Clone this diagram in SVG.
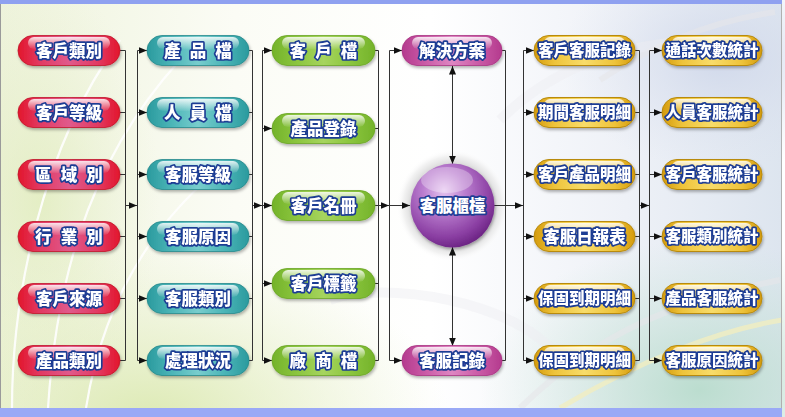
<svg xmlns="http://www.w3.org/2000/svg" width="785" height="417" viewBox="0 0 785 417">
<defs>
  <linearGradient id="bgBase" x1="0" y1="0" x2="1" y2="0">
    <stop offset="0" stop-color="#eef3dc"/>
    <stop offset="0.3" stop-color="#fbfcf5"/>
    <stop offset="0.55" stop-color="#ffffff"/>
    <stop offset="0.8" stop-color="#eef1f7"/>
    <stop offset="1" stop-color="#dde5ef"/>
  </linearGradient>
  <radialGradient id="bgBL" cx="0.5" cy="0.5" r="0.5">
    <stop offset="0" stop-color="#dbe9b0" stop-opacity="0.95"/>
    <stop offset="1" stop-color="#e6efc8" stop-opacity="0"/>
  </radialGradient>
  <radialGradient id="bgBR" cx="0.5" cy="0.5" r="0.5">
    <stop offset="0" stop-color="#b9dccd" stop-opacity="0.95"/>
    <stop offset="1" stop-color="#c8e4d8" stop-opacity="0"/>
  </radialGradient>
  <radialGradient id="bgTR" cx="0.5" cy="0.5" r="0.5">
    <stop offset="0" stop-color="#cfd7ea" stop-opacity="0.9"/>
    <stop offset="1" stop-color="#dde3f0" stop-opacity="0"/>
  </radialGradient>

  <linearGradient id="gRed" x1="0" y1="0" x2="1" y2="0">
    <stop offset="0" stop-color="#e2162c"/>
    <stop offset="0.22" stop-color="#e23a63"/>
    <stop offset="0.5" stop-color="#e05a8c"/>
    <stop offset="0.78" stop-color="#e23a63"/>
    <stop offset="1" stop-color="#e2162c"/>
  </linearGradient>
  <linearGradient id="gTeal" x1="0" y1="0" x2="1" y2="0">
    <stop offset="0" stop-color="#2a9a9e"/>
    <stop offset="0.25" stop-color="#4db6b8"/>
    <stop offset="0.5" stop-color="#78cdcd"/>
    <stop offset="0.75" stop-color="#4db6b8"/>
    <stop offset="1" stop-color="#2a9a9e"/>
  </linearGradient>
  <linearGradient id="gGreen" x1="0" y1="0" x2="1" y2="0">
    <stop offset="0" stop-color="#74b32a"/>
    <stop offset="0.25" stop-color="#8cc63f"/>
    <stop offset="0.5" stop-color="#a6d45e"/>
    <stop offset="0.75" stop-color="#8cc63f"/>
    <stop offset="1" stop-color="#74b32a"/>
  </linearGradient>
  <linearGradient id="gPink" x1="0" y1="0" x2="1" y2="0">
    <stop offset="0" stop-color="#b43a8e"/>
    <stop offset="0.25" stop-color="#cc5ea8"/>
    <stop offset="0.5" stop-color="#de86c2"/>
    <stop offset="0.75" stop-color="#cc5ea8"/>
    <stop offset="1" stop-color="#b43a8e"/>
  </linearGradient>
  <linearGradient id="gGold" x1="0" y1="0" x2="1" y2="0">
    <stop offset="0" stop-color="#d49a0c"/>
    <stop offset="0.2" stop-color="#eec33a"/>
    <stop offset="0.5" stop-color="#f8dc6a"/>
    <stop offset="0.8" stop-color="#eec33a"/>
    <stop offset="1" stop-color="#d49a0c"/>
  </linearGradient>
  <linearGradient id="gHi" x1="0" y1="0" x2="0" y2="1">
    <stop offset="0" stop-color="#fff" stop-opacity="0.85"/>
    <stop offset="1" stop-color="#fff" stop-opacity="0.05"/>
  </linearGradient>
  <radialGradient id="gBall" cx="0.4" cy="0.32" r="0.7">
    <stop offset="0" stop-color="#e6c6f0"/>
    <stop offset="0.35" stop-color="#bb7fd0"/>
    <stop offset="0.8" stop-color="#8a3ea2"/>
    <stop offset="1" stop-color="#6c2484"/>
  </radialGradient>
  <radialGradient id="gHalo" cx="0.5" cy="0.5" r="0.5">
    <stop offset="0.75" stop-color="#d8d8d8" stop-opacity="0.9"/>
    <stop offset="0.88" stop-color="#ececec" stop-opacity="0.7"/>
    <stop offset="1" stop-color="#ffffff" stop-opacity="0"/>
  </radialGradient>
  <filter id="sh" x="-10%" y="-20%" width="120%" height="160%">
    <feDropShadow dx="1" dy="2" stdDeviation="1.5" flood-color="#000" flood-opacity="0.3"/>
  </filter>
  <marker id="ah" markerWidth="9" markerHeight="8" refX="8.5" refY="4" orient="auto" markerUnits="userSpaceOnUse">
    <path d="M0,0.5 L8.5,4 L0,7.5 z" fill="#111"/>
  </marker>
</defs>
<style>
  .lbl { font-family: "Noto Sans CJK TC", "Noto Sans CJK SC", sans-serif; font-weight: 900; font-size: 16.5px; fill: #ffffff; stroke: #1e3c94; stroke-width: 3.4px; stroke-linejoin: round; paint-order: stroke; text-anchor: middle; }
  .sm { font-size: 15.5px; }
  .sp { letter-spacing: 2.7px; }
  .hi { fill: url(#gHi); }
  .conn path, .conn line { stroke: #333333; stroke-width: 1; fill: none; }
  .arr { marker-end: url(#ah); }
</style>

<!-- background -->
<rect x="0" y="0" width="785" height="417" fill="#ffffff"/>
<rect x="1" y="4" width="781" height="404" fill="url(#bgBase)"/>
<ellipse cx="150" cy="420" rx="300" ry="170" fill="url(#bgBL)"/>
<ellipse cx="40" cy="200" rx="120" ry="220" fill="url(#bgBL)" opacity="0.6"/>
<ellipse cx="700" cy="390" rx="220" ry="150" fill="url(#bgBR)"/>
<ellipse cx="720" cy="60" rx="160" ry="110" fill="url(#bgTR)"/>
<g fill="none" stroke="#ffffff" stroke-width="2.2" opacity="0.9">
  <path d="M12,408 C12,300 40,150 120,40"/>
  <path d="M48,408 C55,300 80,170 180,60"/>
  <path d="M86,408 C100,320 140,230 230,160"/>
</g>
<g fill="none" stroke="#e6e6ea" stroke-width="6" opacity="0.6">
  <path d="M520,408 C600,330 680,300 780,280"/>
  <path d="M600,80 C660,40 720,20 775,12"/>
</g>
<g fill="none" stroke="#eeeef2" stroke-width="10" opacity="0.45">
  <path d="M330,300 C380,280 520,300 560,360"/>
  <path d="M500,120 C560,60 640,40 720,40"/>
</g>
<path d="M560,408 C640,360 720,330 782,320" fill="none" stroke="#f1eec0" stroke-width="5" opacity="0.8"/>
<rect x="0" y="0" width="782" height="4" fill="#8fa1f0"/>
<rect x="0" y="408" width="782" height="9" fill="#9aa9f6"/>
<line x1="0.5" y1="4" x2="0.5" y2="408" stroke="#9a9a9a" stroke-width="1"/>
<line x1="781.5" y1="4" x2="781.5" y2="408" stroke="#b0b0b0" stroke-width="1"/>
<circle cx="452.5" cy="205.5" r="56" fill="url(#gHalo)"/>

<!-- connectors -->
<g id="connectors" class="conn">
  <!-- red -> teal -->
  <path d="M120,50.5 H125.5 M120,112.5 H125.5 M120,174.5 H125.5 M120,236.5 H125.5 M120,298.5 H125.5 M120,360.5 H125.5 M125.5,50.5 V360.5"/>
  <line class="arr" x1="125.5" y1="205.5" x2="137" y2="205.5"/>
  <path d="M137.5,50.5 V360.5"/>
  <line class="arr" x1="137.5" y1="50.5" x2="147" y2="50.5"/>
  <line class="arr" x1="137.5" y1="112.5" x2="147" y2="112.5"/>
  <line class="arr" x1="137.5" y1="174.5" x2="147" y2="174.5"/>
  <line class="arr" x1="137.5" y1="236.5" x2="147" y2="236.5"/>
  <line class="arr" x1="137.5" y1="298.5" x2="147" y2="298.5"/>
  <line class="arr" x1="137.5" y1="360.5" x2="147" y2="360.5"/>
  <!-- teal -> green -->
  <path d="M249,50.5 H252.5 M249,112.5 H252.5 M249,174.5 H252.5 M249,236.5 H252.5 M249,298.5 H252.5 M249,360.5 H252.5 M252.5,50.5 V360.5"/>
  <line class="arr" x1="252.5" y1="205.5" x2="262" y2="205.5"/>
  <path d="M262.5,50.5 V360.5"/>
  <line class="arr" x1="262.5" y1="50.5" x2="272" y2="50.5"/>
  <line class="arr" x1="262.5" y1="128.5" x2="272" y2="128.5"/>
  <line class="arr" x1="262.5" y1="205.5" x2="272" y2="205.5"/>
  <line class="arr" x1="262.5" y1="283.5" x2="272" y2="283.5"/>
  <line class="arr" x1="262.5" y1="360.5" x2="272" y2="360.5"/>
  <!-- green -> pink / ball -->
  <path d="M375,50.5 H378.5 M375,128.5 H378.5 M375,205.5 H378.5 M375,283.5 H378.5 M375,360.5 H378.5 M378.5,50.5 V360.5"/>
  <line class="arr" x1="378.5" y1="205.5" x2="389" y2="205.5"/>
  <path d="M389.5,50.5 V360.5"/>
  <line class="arr" x1="389.5" y1="50.5" x2="402" y2="50.5"/>
  <line class="arr" x1="389.5" y1="205.5" x2="410" y2="205.5"/>
  <line class="arr" x1="389.5" y1="360.5" x2="402" y2="360.5"/>
  <!-- ball <-> pink -->
  <line class="arr" x1="452.5" y1="110" x2="452.5" y2="66"/>
  <line class="arr" x1="452.5" y1="110" x2="452.5" y2="164"/>
  <line class="arr" x1="452.5" y1="300" x2="452.5" y2="247"/>
  <line class="arr" x1="452.5" y1="300" x2="452.5" y2="346"/>
  <!-- pink / ball -> yellow -->
  <path d="M502,50.5 H505.5 M502,360.5 H505.5 M505.5,50.5 V360.5"/>
  <line class="arr" x1="494" y1="205.5" x2="523" y2="205.5"/>
  <path d="M523.5,50.5 V360.5"/>
  <line class="arr" x1="523.5" y1="50.5" x2="534" y2="50.5"/>
  <line class="arr" x1="523.5" y1="112.5" x2="534" y2="112.5"/>
  <line class="arr" x1="523.5" y1="174.5" x2="534" y2="174.5"/>
  <line class="arr" x1="523.5" y1="236.5" x2="534" y2="236.5"/>
  <line class="arr" x1="523.5" y1="298.5" x2="534" y2="298.5"/>
  <line class="arr" x1="523.5" y1="360.5" x2="534" y2="360.5"/>
  <!-- yellow -> yellow -->
  <path d="M635,50.5 H639.5 M635,112.5 H639.5 M635,174.5 H639.5 M635,236.5 H639.5 M635,298.5 H639.5 M635,360.5 H639.5 M639.5,50.5 V360.5"/>
  <line class="arr" x1="639.5" y1="205.5" x2="649" y2="205.5"/>
  <path d="M649.5,50.5 V360.5"/>
  <line class="arr" x1="649.5" y1="50.5" x2="662" y2="50.5"/>
  <line class="arr" x1="649.5" y1="112.5" x2="662" y2="112.5"/>
  <line class="arr" x1="649.5" y1="174.5" x2="662" y2="174.5"/>
  <line class="arr" x1="649.5" y1="236.5" x2="662" y2="236.5"/>
  <line class="arr" x1="649.5" y1="298.5" x2="662" y2="298.5"/>
  <line class="arr" x1="649.5" y1="360.5" x2="662" y2="360.5"/>
</g>

<!-- red column -->
<g id="n-kehuleibie" filter="url(#sh)"><rect x="18" y="35.5" width="102" height="30" rx="15" fill="url(#gRed)" stroke="#c0142a" stroke-width="0.8"/><rect x="28" y="37" width="82" height="12" rx="6" class="hi"/><text class="lbl" x="69" y="56.5">客戶類別</text></g>
<g id="n-kehudengji" filter="url(#sh)"><rect x="18" y="97.5" width="102" height="30" rx="15" fill="url(#gRed)" stroke="#c0142a" stroke-width="0.8"/><rect x="28" y="99" width="82" height="12" rx="6" class="hi"/><text class="lbl" x="69" y="118.5">客戶等級</text></g>
<g id="n-quyubie" filter="url(#sh)"><rect x="18" y="159.5" width="102" height="30" rx="15" fill="url(#gRed)" stroke="#c0142a" stroke-width="0.8"/><rect x="28" y="161" width="82" height="12" rx="6" class="hi"/><text class="lbl sp" x="70.3" y="180.5">區 域 別</text></g>
<g id="n-hangyebie" filter="url(#sh)"><rect x="18" y="221.5" width="102" height="30" rx="15" fill="url(#gRed)" stroke="#c0142a" stroke-width="0.8"/><rect x="28" y="223" width="82" height="12" rx="6" class="hi"/><text class="lbl sp" x="70.3" y="242.5">行 業 別</text></g>
<g id="n-kehulaiyuan" filter="url(#sh)"><rect x="18" y="283.5" width="102" height="30" rx="15" fill="url(#gRed)" stroke="#c0142a" stroke-width="0.8"/><rect x="28" y="285" width="82" height="12" rx="6" class="hi"/><text class="lbl" x="69" y="304.5">客戶來源</text></g>
<g id="n-chanpinleibie" filter="url(#sh)"><rect x="18" y="345.5" width="102" height="30" rx="15" fill="url(#gRed)" stroke="#c0142a" stroke-width="0.8"/><rect x="28" y="347" width="82" height="12" rx="6" class="hi"/><text class="lbl" x="69" y="366.5">產品類別</text></g>

<!-- teal column -->
<g id="n-chanpindang" filter="url(#sh)"><rect x="147" y="35.5" width="102" height="30" rx="15" fill="url(#gTeal)" stroke="#25898c" stroke-width="0.8"/><rect x="157" y="37" width="82" height="12" rx="6" class="hi"/><text class="lbl sp" x="199.3" y="56.5">產 品 檔</text></g>
<g id="n-renyuandang" filter="url(#sh)"><rect x="147" y="97.5" width="102" height="30" rx="15" fill="url(#gTeal)" stroke="#25898c" stroke-width="0.8"/><rect x="157" y="99" width="82" height="12" rx="6" class="hi"/><text class="lbl sp" x="199.3" y="118.5">人 員 檔</text></g>
<g id="n-kefudengji" filter="url(#sh)"><rect x="147" y="159.5" width="102" height="30" rx="15" fill="url(#gTeal)" stroke="#25898c" stroke-width="0.8"/><rect x="157" y="161" width="82" height="12" rx="6" class="hi"/><text class="lbl" x="198" y="180.5">客服等級</text></g>
<g id="n-kefuyuanyin" filter="url(#sh)"><rect x="147" y="221.5" width="102" height="30" rx="15" fill="url(#gTeal)" stroke="#25898c" stroke-width="0.8"/><rect x="157" y="223" width="82" height="12" rx="6" class="hi"/><text class="lbl" x="198" y="242.5">客服原因</text></g>
<g id="n-kefuleibie" filter="url(#sh)"><rect x="147" y="283.5" width="102" height="30" rx="15" fill="url(#gTeal)" stroke="#25898c" stroke-width="0.8"/><rect x="157" y="285" width="82" height="12" rx="6" class="hi"/><text class="lbl" x="198" y="304.5">客服類別</text></g>
<g id="n-chulizhuangkuang" filter="url(#sh)"><rect x="147" y="345.5" width="102" height="30" rx="15" fill="url(#gTeal)" stroke="#25898c" stroke-width="0.8"/><rect x="157" y="347" width="82" height="12" rx="6" class="hi"/><text class="lbl" x="198" y="366.5">處理狀況</text></g>

<!-- green column -->
<g id="n-kehudang" filter="url(#sh)"><rect x="272" y="35.5" width="103" height="30" rx="15" fill="url(#gGreen)" stroke="#6aa424" stroke-width="0.8"/><rect x="282" y="37" width="83" height="12" rx="6" class="hi"/><text class="lbl sp" x="324.8" y="56.5">客 戶 檔</text></g>
<g id="n-chanpindenglu" filter="url(#sh)"><rect x="272" y="113.5" width="103" height="30" rx="15" fill="url(#gGreen)" stroke="#6aa424" stroke-width="0.8"/><rect x="282" y="115" width="83" height="12" rx="6" class="hi"/><text class="lbl" x="323.5" y="134.5">產品登錄</text></g>
<g id="n-kehumingce" filter="url(#sh)"><rect x="272" y="190.5" width="103" height="30" rx="15" fill="url(#gGreen)" stroke="#6aa424" stroke-width="0.8"/><rect x="282" y="192" width="83" height="12" rx="6" class="hi"/><text class="lbl" x="323.5" y="211.5">客戶名冊</text></g>
<g id="n-kehubiaoqian" filter="url(#sh)"><rect x="272" y="268.5" width="103" height="30" rx="15" fill="url(#gGreen)" stroke="#6aa424" stroke-width="0.8"/><rect x="282" y="270" width="83" height="12" rx="6" class="hi"/><text class="lbl" x="323.5" y="289.5">客戶標籤</text></g>
<g id="n-changshangdang" filter="url(#sh)"><rect x="272" y="345.5" width="103" height="30" rx="15" fill="url(#gGreen)" stroke="#6aa424" stroke-width="0.8"/><rect x="282" y="347" width="83" height="12" rx="6" class="hi"/><text class="lbl sp" x="324.8" y="366.5">廠 商 檔</text></g>

<!-- pink + ball -->
<g id="n-jiejuefangan" filter="url(#sh)"><rect x="402" y="35.5" width="100" height="30" rx="15" fill="url(#gPink)" stroke="#a83282" stroke-width="0.8"/><rect x="412" y="37" width="80" height="12" rx="6" class="hi"/><text class="lbl" x="452" y="56.5">解決方案</text></g>
<g id="n-kefujilu" filter="url(#sh)"><rect x="402" y="345.5" width="100" height="30" rx="15" fill="url(#gPink)" stroke="#a83282" stroke-width="0.8"/><rect x="412" y="347" width="80" height="12" rx="6" class="hi"/><text class="lbl" x="452" y="366.5">客服記錄</text></g>
<g id="n-kefuguitai">
  <circle cx="452.5" cy="205.5" r="42" fill="url(#gBall)" filter="url(#sh)"/>
  <ellipse cx="447" cy="180" rx="26" ry="13" fill="#ffffff" opacity="0.3"/>
  <text class="lbl" x="452.5" y="211.5">客服櫃檯</text>
</g>

<!-- yellow column 1 -->
<g id="n-kehukefujilu" filter="url(#sh)"><rect x="534" y="35.5" width="101" height="30" rx="15" fill="url(#gGold)" stroke="#b88a0c" stroke-width="1"/><rect x="544" y="37" width="81" height="12" rx="6" class="hi"/><text class="lbl sm" x="584.5" y="56.3">客戶客服記錄</text></g>
<g id="n-qijiankefumingxi" filter="url(#sh)"><rect x="534" y="97.5" width="101" height="30" rx="15" fill="url(#gGold)" stroke="#b88a0c" stroke-width="1"/><rect x="544" y="99" width="81" height="12" rx="6" class="hi"/><text class="lbl sm" x="584.5" y="118.3">期間客服明細</text></g>
<g id="n-kehuchanpinmingxi" filter="url(#sh)"><rect x="534" y="159.5" width="101" height="30" rx="15" fill="url(#gGold)" stroke="#b88a0c" stroke-width="1"/><rect x="544" y="161" width="81" height="12" rx="6" class="hi"/><text class="lbl sm" x="584.5" y="180.3">客戶產品明細</text></g>
<g id="n-kefuribiao" filter="url(#sh)"><rect x="534" y="221.5" width="101" height="30" rx="15" fill="url(#gGold)" stroke="#b88a0c" stroke-width="1"/><rect x="544" y="223" width="81" height="12" rx="6" class="hi"/><text class="lbl" x="584.5" y="242.5">客服日報表</text></g>
<g id="n-baogudaoqi1" filter="url(#sh)"><rect x="534" y="283.5" width="101" height="30" rx="15" fill="url(#gGold)" stroke="#b88a0c" stroke-width="1"/><rect x="544" y="285" width="81" height="12" rx="6" class="hi"/><text class="lbl sm" x="584.5" y="304.3">保固到期明細</text></g>
<g id="n-baogudaoqi2" filter="url(#sh)"><rect x="534" y="345.5" width="101" height="30" rx="15" fill="url(#gGold)" stroke="#b88a0c" stroke-width="1"/><rect x="544" y="347" width="81" height="12" rx="6" class="hi"/><text class="lbl sm" x="584.5" y="366.3">保固到期明細</text></g>

<!-- yellow column 2 -->
<g id="n-tonghuacishu" filter="url(#sh)"><rect x="662" y="35.5" width="100" height="30" rx="15" fill="url(#gGold)" stroke="#b88a0c" stroke-width="1"/><rect x="672" y="37" width="80" height="12" rx="6" class="hi"/><text class="lbl sm" x="712" y="56.3">通話次數統計</text></g>
<g id="n-renyuankefu" filter="url(#sh)"><rect x="662" y="97.5" width="100" height="30" rx="15" fill="url(#gGold)" stroke="#b88a0c" stroke-width="1"/><rect x="672" y="99" width="80" height="12" rx="6" class="hi"/><text class="lbl sm" x="712" y="118.3">人員客服統計</text></g>
<g id="n-kehukefutongji" filter="url(#sh)"><rect x="662" y="159.5" width="100" height="30" rx="15" fill="url(#gGold)" stroke="#b88a0c" stroke-width="1"/><rect x="672" y="161" width="80" height="12" rx="6" class="hi"/><text class="lbl sm" x="712" y="180.3">客戶客服統計</text></g>
<g id="n-kefuleibietongji" filter="url(#sh)"><rect x="662" y="221.5" width="100" height="30" rx="15" fill="url(#gGold)" stroke="#b88a0c" stroke-width="1"/><rect x="672" y="223" width="80" height="12" rx="6" class="hi"/><text class="lbl sm" x="712" y="242.3">客服類別統計</text></g>
<g id="n-chanpinkefutongji" filter="url(#sh)"><rect x="662" y="283.5" width="100" height="30" rx="15" fill="url(#gGold)" stroke="#b88a0c" stroke-width="1"/><rect x="672" y="285" width="80" height="12" rx="6" class="hi"/><text class="lbl sm" x="712" y="304.3">產品客服統計</text></g>
<g id="n-kefuyuanyintongji" filter="url(#sh)"><rect x="662" y="345.5" width="100" height="30" rx="15" fill="url(#gGold)" stroke="#b88a0c" stroke-width="1"/><rect x="672" y="347" width="80" height="12" rx="6" class="hi"/><text class="lbl sm" x="712" y="366.3">客服原因統計</text></g>
</svg>
